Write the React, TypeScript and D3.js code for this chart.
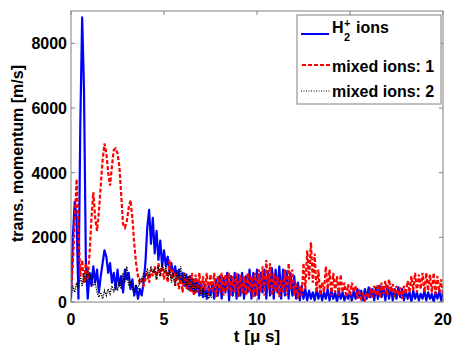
import React from "react";
import * as d3 from "d3";

const W = 453;
const H = 346;
const tStep = 0.1;

const xTicks = [0, 5, 10, 15, 20];
const yTicks = [0, 2000, 4000, 6000, 8000];

const seriesNames = ["H2+ ions", "mixed ions: 1", "mixed ions: 2"];

// H2+ ions (blue), sampled every 0.1 µs from 0 to 20
const h2Ions = [
  100, 2000, 3100, 2600, 100, 5500, 8800, 6500, 1200, 100,
  900, 500, 1100, 600, 1000, 300, 800, 1200, 1600, 1400,
  900, 1200, 600, 900, 400, 1000, 500, 800, 300, 1000,
  700, 900, 400, 700, 200, 500, 100, 400, 200, 600,
  1200, 2300, 2850, 1800, 2600, 1500, 2200, 1300, 1900, 1100,
  1600, 1100, 1400, 900, 1200, 800, 1100, 700, 1000, 600,
  900, 500, 850, 400, 800, 350, 700, 300, 650, 200,
  600, 150, 550, 100, 500, 200, 600, 100, 700, 200,
  800, 100, 750, 300, 900, 50, 800, 200, 900, 100,
  850, 200, 900, 100, 800, 300, 1000, 100, 900, 200,
  1000, 100, 900, 300, 1000, 100, 950, 200, 1050, 100,
  1000, 300, 1100, 100, 1000, 200, 950, 100, 900, 200,
  800, 100, 600, 50, 500, 100, 400, 50, 350, 100,
  300, 50, 400, 100, 350, 50, 300, 100, 400, 50,
  350, 100, 300, 0, 350, 100, 300, 50, 250, 100,
  300, 50, 350, 100, 400, 150, 350, 50, 400, 100,
  450, 150, 400, 50, 450, 100, 500, 150, 450, 50,
  500, 100, 450, 50, 400, 100, 450, 150, 400, 50,
  350, 100, 300, 0, 350, 100, 300, 50, 250, 100,
  350, 50, 300, 100, 250, 0, 300, 100, 350, 50,
  300,
];

// mixed ions: 1 (red dashed)
const mixed1 = [
  300, 1200, 2500, 3800, 2200, 800, 1300, 600, 1200, 700,
  1500, 2600, 3400, 2600, 2200, 2800, 3600, 4400, 4900, 4600,
  4000, 3600, 4200, 4700, 4750, 4600, 4200, 3300, 2400, 2300,
  2500, 2900, 3150, 2600, 1800, 1200, 800, 600, 700, 500,
  700, 900, 600, 1000, 800, 1100, 700, 1200, 800, 1100,
  700, 1000, 600, 1300, 700, 1000, 500, 900, 400, 800,
  300, 900, 400, 800, 300, 900, 200, 850, 300, 900,
  250, 800, 350, 900, 200, 850, 300, 900, 150, 800,
  300, 900, 200, 850, 350, 900, 200, 800, 300, 900,
  150, 850, 250, 800, 200, 900, 300, 800, 150, 900,
  200, 1000, 300, 1100, 200, 1300, 400, 1200, 200, 900,
  300, 800, 150, 700, 300, 1000, 200, 1200, 400, 1000,
  200, 600, 100, 500, 200, 1200, 400, 1600, 700, 1850,
  600, 1500, 300, 1000, 200, 600, 300, 1100, 400, 1000,
  200, 900, 300, 800, 200, 850, 300, 600, 150, 550,
  200, 600, 300, 500, 100, 300, 100, 250, 50, 300,
  100, 350, 150, 500, 200, 550, 150, 600, 250, 650,
  200, 700, 300, 550, 150, 500, 200, 450, 100, 500,
  250, 650, 300, 800, 350, 900, 300, 850, 400, 900,
  300, 900, 350, 850, 300, 900, 250, 800, 300, 700,
  200,
];

// mixed ions: 2 (black dotted), 0 to 7.6 µs
const mixed2 = [
  200, 500, 300, 600, 400, 800, 500, 900, 600, 1000,
  700, 900, 500, 600, 300, 150, 300, 100, 350, 200,
  400, 250, 500, 300, 600, 350, 700, 400, 900, 600,
  1100, 500, 600, 400, 300, 500, 400, 700, 600, 900,
  800, 1000, 800, 1100, 900, 1000, 700, 1100, 800, 1200,
  900, 1100, 700, 1000, 600, 900, 500, 1000, 700, 1100,
  600, 900, 500, 800, 400, 700, 300, 600, 400, 500,
  200, 400, 150, 300, 100, 250, 100,
];

const M = { left: 71, right: 443, top: 11, bottom: 302 };
const FONT = "'Liberation Sans', Arial, Helvetica, sans-serif";
const AX = "#808080";

export default function App() {
  const x = d3.scaleLinear().domain([0, 20]).range([M.left, M.right]);
  const y = d3.scaleLinear().domain([0, 9000]).range([M.bottom, M.top]);
  const line = d3
    .line<number>()
    .x((_, i) => x(i * tStep))
    .y((d) => y(d));

  const tickLen = 4;

  return (
    <svg
      width={W}
      height={H}
      style={{ position: "absolute", left: 0, top: 0, background: "#fff" }}
      fontFamily={FONT}
      fontWeight="bold"
    >
      <defs>
        <clipPath id="plot">
          <rect x={M.left} y={M.top} width={M.right - M.left} height={M.bottom - M.top} />
        </clipPath>
      </defs>
      <rect x={0} y={0} width={W} height={H} fill="#fff" />
      <g clipPath="url(#plot)">
        <path d={line(h2Ions) || ""} fill="none" stroke="#0000ff" strokeWidth={2.2} strokeLinejoin="round" />
        <path d={line(mixed1) || ""} fill="none" stroke="#ff0000" strokeWidth={2.2} strokeDasharray="4,2" />
        <path d={line(mixed2) || ""} fill="none" stroke="#000" strokeWidth={1.4} strokeDasharray="1.2,1.2" />
      </g>
      {/* axes box */}
      <rect x={M.left} y={M.top} width={M.right - M.left} height={M.bottom - M.top} fill="none" stroke={AX} strokeWidth={1} />
      {xTicks.map((t) => (
        <g key={"xt" + t}>
          <line x1={x(t)} x2={x(t)} y1={M.bottom} y2={M.bottom - tickLen} stroke={AX} />
          <line x1={x(t)} x2={x(t)} y1={M.top} y2={M.top + tickLen} stroke={AX} />
          <text x={x(t)} y={325} textAnchor="middle" fontSize={16} fill="#000">
            {t}
          </text>
        </g>
      ))}
      {yTicks.map((v) => (
        <g key={"yt" + v}>
          <line x1={M.left} x2={M.left + tickLen} y1={y(v)} y2={y(v)} stroke={AX} />
          <line x1={M.right} x2={M.right - tickLen} y1={y(v)} y2={y(v)} stroke={AX} />
          <text x={67} y={y(v) + 6} textAnchor="end" fontSize={16} fill="#000">
            {v}
          </text>
        </g>
      ))}
      <text x={(M.left + M.right) / 2} y={342} textAnchor="middle" fontSize={17} fill="#000">
        t [μ s]
      </text>
      <text
        transform={`translate(23, ${(M.top + M.bottom) / 2 - 3}) rotate(-90)`}
        textAnchor="middle"
        fontSize={16}
        fill="#000"
      >
        trans. momentum [m/s]
      </text>
      {/* legend */}
      <g>
        <rect x={297} y={15} width={144} height={89} fill="#fff" stroke={AX} strokeWidth={1} />
        <line x1={301} x2={329} y1={34} y2={34} stroke="#0000ff" strokeWidth={2} />
        <text x={332} y={33} fontSize={16} fill="#000">
          H
        </text>
        <text x={344} y={27} fontSize={11} fill="#000">
          +
        </text>
        <text x={344} y={41} fontSize={11} fill="#000">
          2
        </text>
        <text x={356} y={33} fontSize={16} fill="#000">
          ions
        </text>
        <line x1={302} x2={330} y1={65} y2={65} stroke="#ff0000" strokeWidth={2} strokeDasharray="4,2" />
        <text x={332} y={72} fontSize={16} fill="#000">
          {seriesNames[1]}
        </text>
        <line x1={301} x2={330} y1={91} y2={91} stroke="#000" strokeWidth={1} strokeDasharray="1,1.5" />
        <text x={332} y={97} fontSize={16} fill="#000">
          {seriesNames[2]}
        </text>
      </g>
    </svg>
  );
}
